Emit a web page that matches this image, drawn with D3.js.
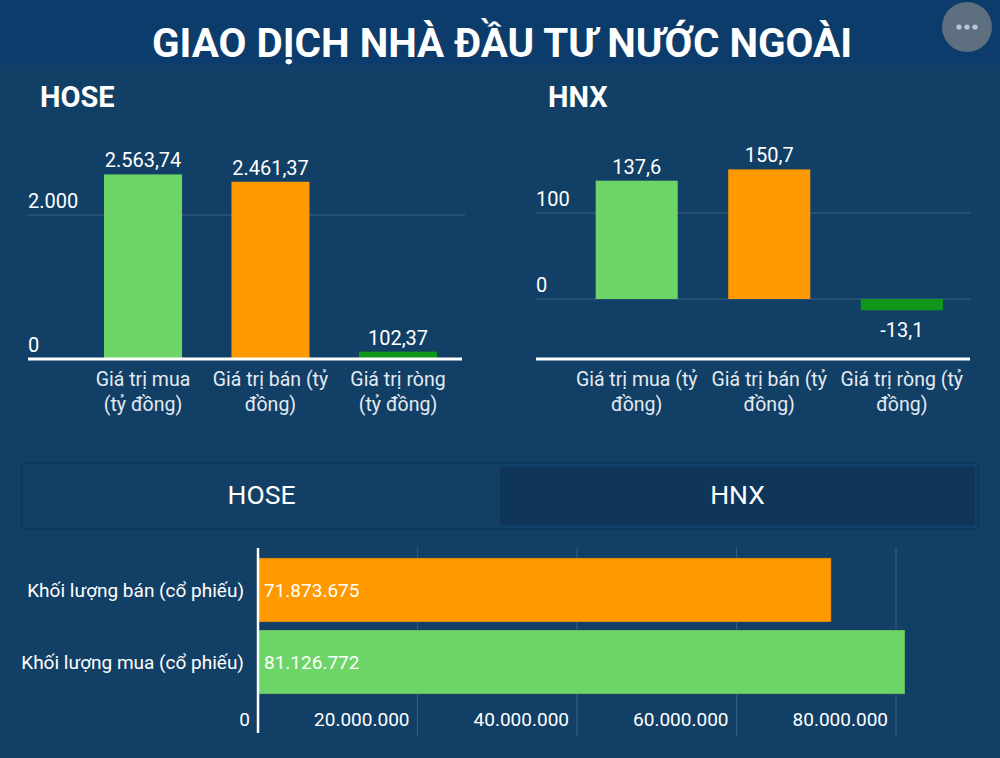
<!DOCTYPE html>
<html><head><meta charset="utf-8">
<script src="https://cdn.jsdelivr.net/npm/d3@7"></script>
<style>
html,body{margin:0;padding:0;background:#123f66;}
svg{display:block;font-family:Roboto,"Noto Sans",sans-serif;}
</style></head>
<body>
<svg id="c" width="1000" height="758"></svg>
<script>
const title = "GIAO DỊCH NHÀ ĐẦU TƯ NƯỚC NGOÀI";

const hoseCategories = ["Giá trị mua (tỷ đồng)", "Giá trị bán (tỷ đồng)", "Giá trị ròng (tỷ đồng)"];
const hoseLabelLines = [["Giá trị mua", "(tỷ đồng)"], ["Giá trị bán (tỷ", "đồng)"], ["Giá trị ròng", "(tỷ đồng)"]];
const hoseValues = [2563.74, 2461.37, 102.37];
const hoseTicks = [0, 2000];

const hnxCategories = ["Giá trị mua (tỷ đồng)", "Giá trị bán (tỷ đồng)", "Giá trị ròng (tỷ đồng)"];
const hnxLabelLines = [["Giá trị mua (tỷ", "đồng)"], ["Giá trị bán (tỷ", "đồng)"], ["Giá trị ròng (tỷ", "đồng)"]];
const hnxValues = [137.6, 150.7, -13.1];
const hnxTicks = [0, 100];

const barColors = ["#6dd468", "#ff9900", "#109618"];

const tabs = ["HOSE", "HNX"];
const volCategories = ["Khối lượng bán (cổ phiếu)", "Khối lượng mua (cổ phiếu)"];
const volValues = [71873675, 81126772];
const volColors = ["#ff9900", "#6dd468"];
const volTicks = [0, 20000000, 40000000, 60000000, 80000000];

const loc = d3.formatLocale({decimal: ",", thousands: ".", grouping: [3], currency: ["", ""], minus: "-"});
const f2 = loc.format(",.2f"), f1 = loc.format(",.1f"), f0 = loc.format(",.0f");

const svg = d3.select("#c");
svg.append("rect").attr("x",0).attr("y",0).attr("width",1000).attr("height",758).attr("fill","#123f66");
svg.append("rect").attr("x",0).attr("y",0).attr("width",1000).attr("height",65).attr("fill","#0c3c6b");

svg.append("text").attr("x",502).attr("y",57).attr("text-anchor","middle")
  .attr("fill","#fff").attr("font-weight","bold").attr("font-size",40)
  .attr("textLength",700).attr("lengthAdjust","spacingAndGlyphs").text(title);

// menu button
svg.append("circle").attr("cx",967).attr("cy",27).attr("r",25).attr("fill","#5e6f80");
svg.selectAll(".dot").data([-8,0,8]).join("circle").attr("cx",d=>967+d).attr("cy",27).attr("r",2.6).attr("fill","#b9c9d9");

function columnChart(opts){
  const g = svg.append("g");
  g.append("text").attr("x",opts.titleX).attr("y",107).attr("fill","#fff").attr("font-weight","bold")
    .attr("font-size",29).text(opts.name);
  const y = d3.scaleLinear().domain(opts.yDomain).range(opts.yRange);
  const x = d3.scaleBand().domain(opts.cats).range(opts.xRange).paddingInner(opts.pi).paddingOuter(opts.po);
  g.selectAll(".grid").data(opts.ticks.filter(t=>opts.gridZero || t!==0)).join("line")
    .attr("x1",opts.gx[0]).attr("x2",opts.gx[1]).attr("y1",d=>y(d)).attr("y2",d=>y(d))
    .attr("stroke","rgba(255,255,255,0.18)").attr("stroke-width",1.2);
  g.selectAll(".tl").data(opts.ticks).join("text").attr("x",opts.gx[0]).attr("y",d=>y(d)-7)
    .attr("fill","#fff").attr("font-size",20).text(d=>loc.format(",")(d));
  g.selectAll(".bar").data(opts.values).join("rect")
    .attr("x",(d,i)=>x(opts.cats[i])).attr("width",x.bandwidth())
    .attr("y",d=>y(Math.max(0,d))).attr("height",d=>Math.abs(y(d)-y(0)))
    .attr("fill",(d,i)=>barColors[i]);
  g.selectAll(".vl").data(opts.values).join("text")
    .attr("x",(d,i)=>x(opts.cats[i])+x.bandwidth()/2)
    .attr("y",d=> d>=0 ? y(d)-7 : y(d)+27)
    .attr("text-anchor","middle").attr("fill","#fff").attr("font-size",20).text(d=>opts.fmt(d));
  g.append("line").attr("x1",opts.gx[0]).attr("x2",opts.baseX2).attr("y1",opts.baseY).attr("y2",opts.baseY)
    .attr("stroke","#fff").attr("stroke-width",3);
  opts.lines.forEach((ls,i)=>{
    const t = g.append("text").attr("text-anchor","middle").attr("fill","#e4eaf1").attr("font-size",19.5);
    ls.forEach((l,j)=>t.append("tspan").attr("x",x(opts.cats[i])+x.bandwidth()/2).attr("y",386+25*j).text(l));
  });
}

columnChart({name:"HOSE", titleX:40, cats:hoseCategories, values:hoseValues, ticks:hoseTicks, lines:hoseLabelLines,
  yDomain:[0,2000], yRange:[359,215], xRange:[79.25,461.75], pi:0.388, po:0.194,
  gx:[28,465], baseX2:462, baseY:359, gridZero:false, fmt:f2});
columnChart({name:"HNX", titleX:548, cats:hnxCategories, values:hnxValues, ticks:hnxTicks, lines:hnxLabelLines,
  yDomain:[0,100], yRange:[299,213], xRange:[570.5,968], pi:0.381, po:0.19,
  gx:[536,970], baseX2:970, baseY:359, gridZero:true, fmt:f1});

// tabs
const tabX = d3.scaleBand().domain(tabs).range([25,975]);
svg.append("rect").attr("x",22).attr("y",463).attr("width",956).attr("height",66).attr("fill","none")
  .attr("stroke","rgba(0,0,0,0.10)").attr("stroke-width",2);
svg.selectAll(".tab").data(tabs).join("rect").attr("x",d=>tabX(d)).attr("y",467).attr("width",tabX.bandwidth()).attr("height",58)
  .attr("fill",(d,i)=> i===0 ? "#133f66" : "#0f3658");
svg.selectAll(".tabt").data(tabs).join("text").attr("x",d=>tabX(d)+tabX.bandwidth()/2 + (d==="HOSE"?-1:0)).attr("y",504)
  .attr("text-anchor","middle").attr("fill","#fff").attr("font-size",26.5).text(d=>d);

// horizontal bar chart
const hx = d3.scaleLinear().domain([0,80000000]).range([258,896]);
const hy = d3.scaleBand().domain(volCategories).range([554,698]).paddingInner(0.111).paddingOuter(0.055);
const hg = svg.append("g");
hg.selectAll(".vg").data(volTicks.slice(1)).join("line").attr("x1",d=>hx(d)).attr("x2",d=>hx(d)).attr("y1",548).attr("y2",736)
  .attr("stroke","rgba(255,255,255,0.15)").attr("stroke-width",1.2);
hg.selectAll(".hb").data(volValues).join("rect").attr("x",hx(0)).attr("y",(d,i)=>hy(volCategories[i]))
  .attr("width",d=>hx(d)-hx(0)).attr("height",hy.bandwidth()).attr("fill",(d,i)=>volColors[i])
  .attr("stroke","rgba(60,70,80,0.35)").attr("stroke-width",1);
hg.selectAll(".hl").data(volValues).join("text").attr("x",hx(0)+6).attr("y",(d,i)=>hy(volCategories[i])+hy.bandwidth()/2+7)
  .attr("fill","#fff").attr("font-size",19).text(d=>f0(d));
hg.selectAll(".hc").data(volCategories).join("text").attr("x",244).attr("y",d=>hy(d)+hy.bandwidth()/2+7)
  .attr("text-anchor","end").attr("fill","#fff").attr("font-size",19).text(d=>d);
hg.selectAll(".ht").data(volTicks).join("text").attr("x",d=>hx(d)-8).attr("y",726)
  .attr("text-anchor","end").attr("fill","#fff").attr("font-size",19).text(d=>f0(d));
hg.append("line").attr("x1",hx(0)).attr("x2",hx(0)).attr("y1",548).attr("y2",733).attr("stroke","#fff").attr("stroke-width",2.5);
</script>
</body></html>
